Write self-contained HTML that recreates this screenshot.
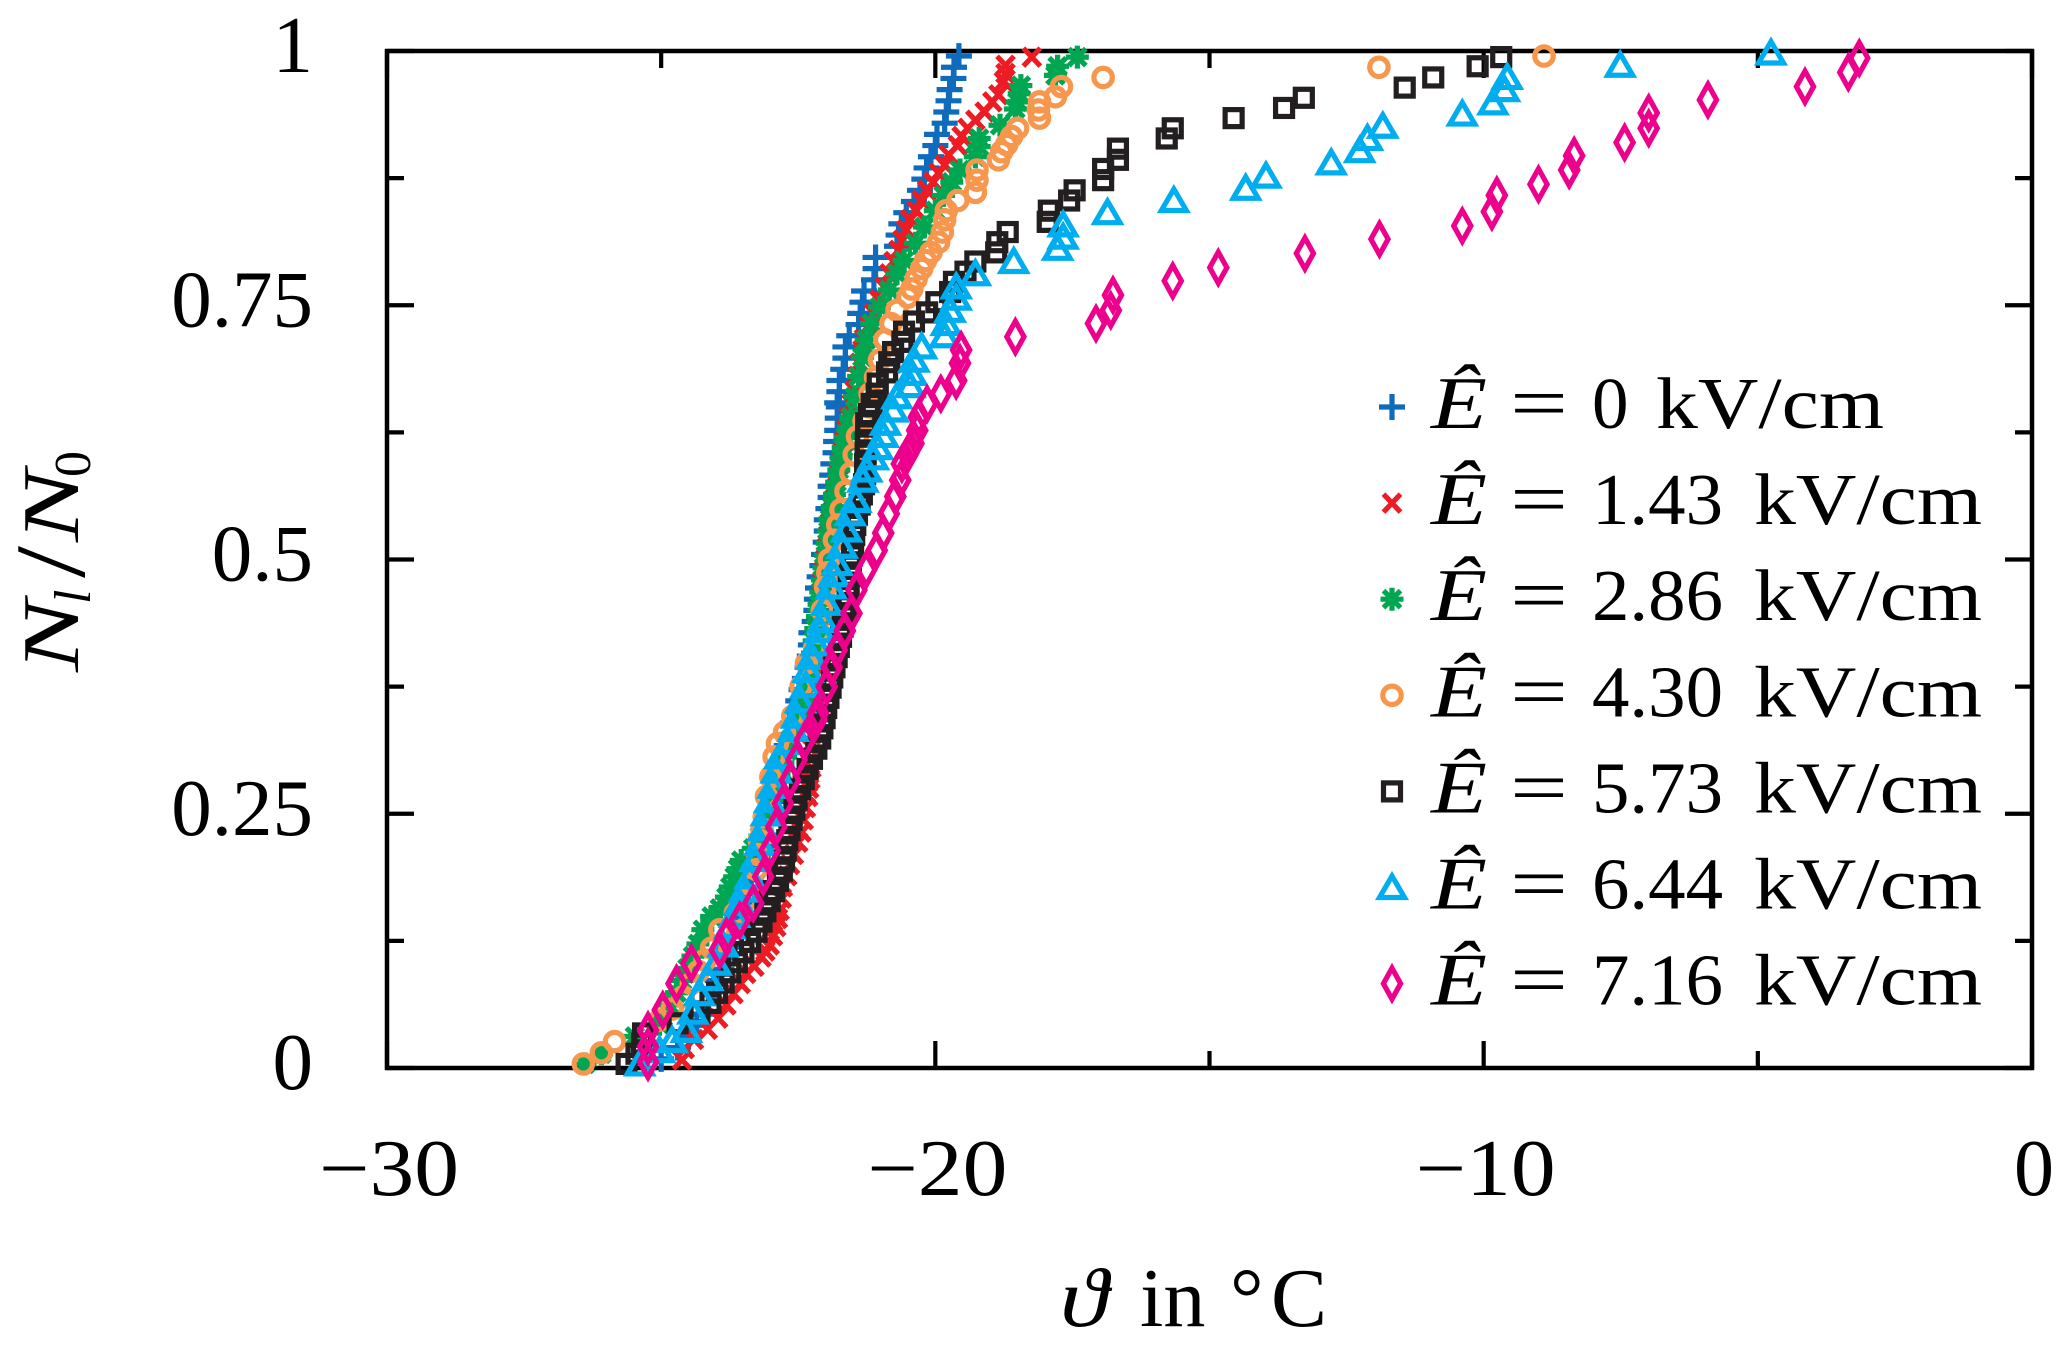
<!DOCTYPE html>
<html lang="en">
<head>
<meta charset="utf-8">
<title>Frozen fraction versus temperature</title>
<style>
html,body{margin:0;padding:0;background:#fff;}
svg{display:block;}
text{font-family:"Liberation Serif","DejaVu Serif",serif;fill:#000;}
</style>
</head>
<body>
<svg id="chart" xmlns="http://www.w3.org/2000/svg" width="2067" height="1346" viewBox="0 0 2067 1346">
<g id="axes"></g>
<g id="marks"></g>
<g id="legend"></g>
<text x="1060" y="1326" font-size="84" font-style="italic" textLength="48" lengthAdjust="spacingAndGlyphs">ϑ</text>
<text x="1140" y="1326" font-size="84">in</text>
<text x="1230" y="1326" font-size="84">°</text>
<text x="1271" y="1326" font-size="84">C</text>
<g transform="translate(78,672) rotate(-90)">
<text x="0" y="0" font-size="80" font-style="italic" textLength="72" lengthAdjust="spacingAndGlyphs">N</text>
<text x="68" y="12" font-size="52" font-style="italic">l</text>
<text x="94" y="6" font-size="100" textLength="32" lengthAdjust="spacingAndGlyphs">/</text>
<text x="130" y="0" font-size="80" font-style="italic" textLength="72" lengthAdjust="spacingAndGlyphs">N</text>
<text x="195" y="12" font-size="52">0</text>
</g>
</svg>
<script>
const xDomain = [-30, 0];
const yDomain = [0, 1];
const xMajorTicks = [-30, -20, -10, 0];
const xMinorTicks = [-25, -15, -5];
const yMajorTicks = [0, 0.25, 0.5, 0.75, 1];
const yMinorTicks = [0.125, 0.375, 0.625, 0.875];
const xTickLabels = ["−30", "−20", "−10", "0"];
const yTickLabels = ["0", "0.25", "0.5", "0.75", "1"];

const plusPoints = [[-19.57,.995],[-19.66,.984],[-19.67,.973],[-19.74,.962],[-19.76,.951],[-19.80,.94],[-19.83,.929],[-19.97,.918],[-20.0,.907],[-20.08,.896],[-20.16,.885],[-20.2,.874],[-20.28,.863],[-20.39,.852],[-20.53,.841],[-20.62,.83],[-20.67,.819],[-20.7,.808],[-21.09,.797],[-21.09,.786],[-21.12,.775],[-21.3,.764],[-21.33,.753],[-21.37,.742],[-21.4,.731],[-21.57,.72],[-21.64,.709],[-21.64,.698],[-21.68,.687],[-21.75,.676],[-21.75,.665],[-21.79,.654],[-21.76,.65],[-21.78,.639],[-21.79,.627],[-21.81,.616],[-21.82,.605],[-21.86,.594],[-21.88,.583],[-21.91,.572],[-21.91,.561],[-21.95,.55],[-21.98,.539],[-21.98,.528],[-22.0,.517],[-22.03,.505],[-22.06,.494],[-22.11,.483],[-22.14,.472],[-22.16,.461],[-22.17,.45],[-22.2,.439],[-22.26,.428],[-22.27,.416],[-22.29,.405],[-22.33,.394],[-22.38,.383],[-22.44,.372],[-22.5,.361],[-22.55,.35],[-22.6,.339],[-22.66,.328],[-22.71,.317],[-22.76,.306],[-22.81,.295],[-22.86,.284],[-22.92,.273],[-22.97,.262],[-23.02,.251],[-23.07,.24],[-23.12,.229],[-23.18,.218],[-23.24,.207],[-23.3,.196],[-23.37,.185],[-23.43,.174],[-23.49,.163],[-23.55,.152],[-23.62,.141],[-23.69,.13],[-23.76,.119],[-23.83,.108],[-23.9,.097],[-23.97,.086],[-24.05,.075],[-24.14,.064],[-24.23,.053],[-24.35,.042],[-24.5,.031],[-24.7,.02],[-25.0,.009]];

const crossPoints = [[-18.24,.994],[-18.72,.986],[-18.72,.978],[-18.75,.970],[-18.85,.957],[-18.96,.950],[-19.10,.940],[-19.27,.932],[-19.41,.924],[-19.52,.916],[-19.59,.907],[-19.76,.898],[-19.83,.888],[-19.94,.880],[-20.04,.871],[-20.15,.863],[-20.25,.853],[-20.35,.843],[-20.46,.834],[-20.53,.824],[-20.6,.814],[-20.67,.804],[-20.76,.793],[-20.84,.781],[-20.93,.768],[-21.02,.755],[-21.12,.742],[-21.21,.730],[-21.3,.717],[-21.33,.706],[-21.38,.693],[-21.42,.680],[-21.47,.666],[-21.53,.653],[-21.58,.640],[-21.62,.628],[-21.66,.616],[-21.7,.605],[-21.75,.593],[-21.78,.582],[-21.82,.57],[-21.85,.559],[-21.88,.547],[-21.92,.536],[-21.95,.524],[-21.98,.512],[-22.0,.501],[-22.03,.489],[-22.06,.478],[-22.08,.466],[-22.1,.455],[-22.13,.443],[-22.15,.432],[-22.17,.42],[-22.18,.409],[-22.2,.397],[-22.21,.386],[-22.22,.374],[-22.23,.363],[-22.24,.351],[-22.25,.34],[-22.25,.328],[-22.26,.317],[-22.26,.305],[-22.26,.295],[-22.28,.284],[-22.3,.275],[-22.32,.267],[-22.36,.256],[-22.4,.244],[-22.44,.232],[-22.5,.222],[-22.58,.21],[-22.65,.2],[-22.7,.189],[-22.78,.178],[-22.8,.167],[-22.84,.155],[-22.87,.147],[-22.9,.139],[-22.96,.13],[-23.02,.121],[-23.1,.115],[-23.17,.109],[-23.3,.1],[-23.45,.093],[-23.55,.083],[-23.68,.073],[-23.81,.062],[-23.96,.049],[-24.15,.038],[-24.4,.028],[-24.57,.019],[-24.62,.008]];

const starPoints = [[-17.41,.994],[-17.77,.985],[-17.81,.976],[-18.44,.966],[-18.47,.958],[-18.5,.950],[-18.54,.943],[-18.82,.927],[-19.2,.914],[-19.2,.906],[-19.27,.896],[-19.55,.883],[-19.7,.871],[-19.85,.858],[-20.0,.843],[-20.2,.827],[-20.36,.811],[-20.57,.794],[-20.7,.781],[-20.84,.765],[-21.02,.748],[-21.16,.732],[-21.26,.716],[-21.33,.699],[-21.4,.68],[-21.47,.66],[-21.54,.64],[-21.58,.63],[-21.63,.62],[-21.68,.61],[-21.72,.6],[-21.76,.588],[-21.8,.576],[-21.84,.564],[-21.88,.552],[-21.92,.54],[-21.95,.528],[-21.97,.516],[-22.0,.504],[-22.03,.492],[-22.06,.48],[-22.09,.468],[-22.12,.456],[-22.15,.444],[-22.18,.432],[-22.21,.42],[-22.24,.408],[-22.28,.396],[-22.32,.384],[-22.37,.372],[-22.43,.36],[-22.5,.348],[-22.56,.336],[-22.62,.324],[-22.7,.312],[-22.78,.3],[-22.85,.288],[-22.92,.276],[-22.98,.264],[-23.05,.252],[-23.12,.24],[-23.2,.228],[-23.32,.216],[-23.54,.204],[-23.6,.196],[-23.66,.188],[-23.74,.178],[-23.81,.168],[-23.93,.157],[-24.08,.149],[-24.24,.136],[-24.33,.122],[-24.42,.11],[-24.52,.098],[-24.62,.086],[-24.72,.074],[-24.85,.062],[-24.97,.05],[-25.03,.043],[-25.48,.031],[-26.09,.014],[-26.39,.004]];

const circlePoints = [[-8.9,.995],[-11.91,.984],[-16.94,.974],[-17.7,.965],[-17.81,.955],[-18.1,.95],[-18.12,.942],[-18.1,.934],[-18.5,.924],[-18.61,.916],[-18.7,.908],[-18.79,.901],[-18.85,.893],[-19.24,.883],[-19.24,.873],[-19.27,.861],[-19.59,.853],[-19.8,.843],[-19.83,.834],[-19.87,.822],[-19.94,.812],[-20.08,.802],[-20.18,.794],[-20.25,.786],[-20.35,.776],[-20.43,.766],[-20.5,.758],[-20.7,.745],[-20.81,.732],[-20.92,.716],[-21.02,.696],[-21.09,.679],[-21.19,.663],[-21.2,.65],[-21.3,.636],[-21.42,.621],[-21.48,.603],[-21.54,.585],[-21.63,.567],[-21.72,.549],[-21.78,.534],[-21.84,.519],[-21.93,.5],[-21.96,.487],[-22.0,.473],[-22.06,.45],[-22.12,.428],[-22.2,.413],[-22.35,.398],[-22.45,.375],[-22.6,.346],[-22.75,.33],[-22.88,.319],[-22.94,.306],[-23.0,.286],[-23.08,.267],[-23.12,.247],[-23.16,.235],[-23.21,.224],[-23.24,.21],[-23.26,.195],[-23.36,.18],[-23.45,.165],[-23.65,.152],[-23.93,.136],[-24.08,.118],[-24.2,.106],[-24.32,.095],[-24.45,.083],[-24.6,.07],[-24.8,.058],[-25.03,.047],[-25.85,.026],[-26.09,.015],[-26.42,.004]];

const squarePoints = [[-9.68,.994],[-10.11,.985],[-10.92,.974],[-11.44,.964],[-13.28,.954],[-13.64,.944],[-14.56,.934],[-15.67,.924],[-15.78,.914],[-16.67,.904],[-16.67,.893],[-16.94,.884],[-16.94,.873],[-17.46,.863],[-17.56,.853],[-17.93,.843],[-17.95,.832],[-18.68,.822],[-18.87,.812],[-18.89,.802],[-19.27,.793],[-19.45,.783],[-19.66,.773],[-19.73,.763],[-19.98,.753],[-20.15,.743],[-20.39,.734],[-20.57,.724],[-20.6,.714],[-20.77,.704],[-20.84,.694],[-20.88,.684],[-21.05,.673],[-21.07,.663],[-21.16,.653],[-21.21,.643],[-21.26,.634],[-21.26,.624],[-21.27,.614],[-21.27,.604],[-21.28,.594],[-21.28,.584],[-21.3,.574],[-21.34,.564],[-21.38,.554],[-21.43,.544],[-21.46,.534],[-21.48,.524],[-21.5,.514],[-21.52,.504],[-21.54,.494],[-21.56,.484],[-21.58,.474],[-21.6,.464],[-21.63,.454],[-21.66,.444],[-21.69,.434],[-21.72,.424],[-21.76,.414],[-21.8,.404],[-21.84,.394],[-21.88,.384],[-21.91,.374],[-21.95,.364],[-21.99,.354],[-22.02,.344],[-22.06,.334],[-22.1,.324],[-22.17,.314],[-22.25,.304],[-22.33,.294],[-22.4,.284],[-22.47,.274],[-22.53,.264],[-22.57,.254],[-22.62,.244],[-22.66,.234],[-22.7,.224],[-22.73,.214],[-22.76,.204],[-22.8,.194],[-22.87,.184],[-22.94,.174],[-23.02,.164],[-23.1,.154],[-23.17,.144],[-23.26,.134],[-23.38,.124],[-23.5,.114],[-23.62,.104],[-23.74,.094],[-23.86,.084],[-23.98,.074],[-24.1,.064],[-24.3,.054],[-24.7,.044],[-25.33,.034],[-25.35,.024],[-25.45,.014],[-25.63,.004]];

const trianglePoints = [[-4.76,.998],[-7.51,.986],[-9.57,.974],[-9.62,.962],[-9.83,.949],[-10.39,.938],[-11.84,.926],[-12.12,.914],[-12.26,.902],[-12.78,.89],[-13.97,.877],[-14.34,.865],[-15.65,.853],[-16.86,.841],[-17.67,.829],[-17.67,.817],[-17.77,.806],[-18.57,.793],[-19.27,.781],[-19.62,.768],[-19.62,.757],[-19.73,.745],[-19.8,.732],[-19.83,.72],[-20.25,.709],[-20.39,.696],[-20.43,.683],[-20.46,.671],[-20.7,.66],[-20.77,.647],[-20.91,.634],[-20.95,.622],[-21.05,.61],[-21.13,.6],[-21.25,.588],[-21.32,.578],[-21.45,.558],[-21.55,.545],[-21.62,.529],[-21.7,.513],[-21.79,.496],[-21.85,.485],[-21.9,.473],[-21.98,.457],[-22.05,.44],[-22.1,.43],[-22.17,.417],[-22.25,.404],[-22.32,.391],[-22.36,.376],[-22.46,.361],[-22.53,.346],[-22.59,.333],[-22.68,.32],[-22.84,.306],[-22.9,.292],[-22.96,.277],[-23.02,.263],[-23.08,.25],[-23.14,.235],[-23.2,.221],[-23.29,.205],[-23.38,.188],[-23.48,.175],[-23.57,.162],[-23.66,.15],[-23.75,.139],[-23.87,.121],[-24.0,.103],[-24.15,.088],[-24.3,.073],[-24.42,.055],[-24.54,.037],[-24.8,.027],[-25.03,.017],[-25.39,.004]];

const diamondPoints = [[-3.15,.993],[-3.35,.979],[-4.14,.965],[-5.91,.952],[-6.99,.939],[-6.99,.924],[-7.43,.91],[-8.35,.897],[-8.44,.883],[-9.0,.869],[-9.76,.858],[-9.85,.842],[-10.39,.828],[-11.9,.815],[-13.26,.801],[-14.84,.787],[-15.67,.774],[-16.76,.76],[-16.8,.745],[-17.07,.732],[-18.54,.719],[-19.53,.706],[-19.55,.693],[-19.62,.676],[-19.9,.663],[-20.15,.653],[-20.3,.64],[-20.33,.627],[-20.4,.614],[-20.5,.604],[-20.61,.594],[-20.64,.578],[-20.73,.562],[-20.85,.545],[-20.95,.526],[-21.07,.509],[-21.26,.49],[-21.44,.47],[-21.53,.447],[-21.65,.43],[-21.8,.411],[-21.89,.394],[-21.98,.375],[-22.14,.349],[-22.17,.342],[-22.38,.322],[-22.53,.303],[-22.65,.283],[-22.78,.26],[-22.9,.237],[-23.02,.214],[-23.14,.188],[-23.32,.162],[-23.57,.145],[-23.81,.129],[-23.93,.116],[-24.45,.103],[-24.72,.083],[-24.97,.057],[-25.24,.037],[-25.24,.021],[-25.24,.006]];

const seriesLabels = ["0","1.43","2.86","4.30","5.73","6.44","7.16"];
const seriesColors = ["#0f6cbd","#ed1c24","#00a651","#f7964d","#231f20","#00aeef","#ec008c"];
const seriesShapes = ["plus","cross","star","circle","square","triangle","diamond"];
const seriesData = [plusPoints,crossPoints,starPoints,circlePoints,squarePoints,trianglePoints,diamondPoints];

const NS = "http://www.w3.org/2000/svg";
const plotLeft = 387, plotRight = 2032, plotTop = 51, plotBottom = 1068;
function xScale(v){ return plotLeft + (v - xDomain[0]) / (xDomain[1] - xDomain[0]) * (plotRight - plotLeft); }
function yScale(v){ return plotBottom - (v - yDomain[0]) / (yDomain[1] - yDomain[0]) * (plotBottom - plotTop); }
function make(tag, attrs, parent){
  const el = document.createElementNS(NS, tag);
  for (const k in attrs) el.setAttribute(k, attrs[k]);
  parent.appendChild(el);
  return el;
}
const axes = document.getElementById("axes");
const frame = make("rect", {x:plotLeft,y:plotTop,width:plotRight-plotLeft,height:plotBottom-plotTop,fill:"none",stroke:"#000","stroke-width":4.5}, axes);



function xTick(v, len){
  const x = xScale(v);
  const a = make("line", {x1:x,x2:x,y1:plotBottom,y2:plotBottom-len,stroke:"#000","stroke-width":4.2}, axes);
  
  
  const b = make("line", {x1:x,x2:x,y1:plotTop,y2:plotTop+len,stroke:"#000","stroke-width":4.2}, axes);
  
  
}
function yTick(v, len){
  const y = yScale(v);
  const a = make("line", {x1:plotLeft,x2:plotLeft+len,y1:y,y2:y,stroke:"#000","stroke-width":4.2}, axes);
  
  
  const b = make("line", {x1:plotRight,x2:plotRight-len,y1:y,y2:y,stroke:"#000","stroke-width":4.2}, axes);
  
  
}
xMajorTicks.forEach(v => xTick(v, 27));
xMinorTicks.forEach(v => xTick(v, 17));
yMajorTicks.forEach(v => yTick(v, 27));
yMinorTicks.forEach(v => yTick(v, 17));

xMajorTicks.forEach((v, i) => {
  const attrs = {x:xScale(v)+2,y:1195,"font-size":80,"text-anchor":"middle"};
  if (xTickLabels[i].length > 1) { attrs.textLength = 140; attrs.lengthAdjust = "spacingAndGlyphs"; }
  const t = make("text", attrs, axes);
  t.textContent = xTickLabels[i];
  
  
});
yMajorTicks.forEach((v, i) => {
  const t = make("text", {x:313,y:yScale(v)+21,"font-size":81,"text-anchor":"end"}, axes);
  t.textContent = yTickLabels[i];
  
  
});

function drawMarker(shape, cx, cy, color, parent){
  const s = {stroke:color,"stroke-width":5.2,fill:"none","stroke-miterlimit":12};
  const g = make("g", Object.assign({transform:"translate("+cx+","+cy+")"}, s), parent);
  if (shape === "plus") {
    make("path", {d:"M-13 0H13M0 -13V13"}, g);
  } else if (shape === "cross") {
    make("path", {d:"M-8.5 -9L8.5 9M-8.5 9L8.5 -9"}, g);
  } else if (shape === "star") {
    make("path", {d:"M-11.5 0H11.5M0 -11.5V11.5M-8.5 -8.5L8.5 8.5M-8.5 8.5L8.5 -8.5"}, g);
  } else if (shape === "circle") {
    make("circle", {cx:0,cy:0,r:9.2}, g);
  } else if (shape === "square") {
    make("rect", {x:-8.5,y:-8.5,width:17,height:17}, g);
  } else if (shape === "triangle") {
    make("path", {d:"M0 -11.5L12.5 10L-12.5 10Z"}, g);
  } else if (shape === "diamond") {
    make("path", {d:"M0 -15.5L8.6 0L0 15.5L-8.6 0Z"}, g);
  }
  return g;
}

const marks = document.getElementById("marks");
seriesData.forEach((pts, si) => {
  const grp = make("g", {}, marks);
  
  
  pts.forEach(p => {
    const m = drawMarker(seriesShapes[si], xScale(p[0]), yScale(p[1]), seriesColors[si], grp);
    
    
  });
});

const legend = document.getElementById("legend");
seriesLabels.forEach((lab, i) => {
  const rowMid = 407 + i * 96.1;
  const base = rowMid + 21;
  const row = make("g", {}, legend);
  
  
  const mk = drawMarker(seriesShapes[i], 1392, rowMid, seriesColors[i], row);
  
  
  const e = make("text", {x:1431,y:base,"font-size":74,"font-style":"italic",textLength:56,lengthAdjust:"spacingAndGlyphs"}, row);
  e.textContent = "Ê";
  
  
  const eq = make("text", {x:1510,y:base,"font-size":74,textLength:58,lengthAdjust:"spacingAndGlyphs"}, row);
  eq.textContent = "=";
  
  
  const valAttrs = {x:1592,y:base,"font-size":73};
  if (lab.length > 1) { valAttrs.textLength = 131; valAttrs.lengthAdjust = "spacingAndGlyphs"; }
  const val = make("text", valAttrs, row);
  val.textContent = lab;
  
  
  const unitX = lab.length > 1 ? 1754 : 1656;
  const u = make("text", {x:unitX,y:base,"font-size":73,textLength:228,lengthAdjust:"spacingAndGlyphs"}, row);
  u.textContent = "kV/cm";
  
  
});
</script>
</body>
</html>
